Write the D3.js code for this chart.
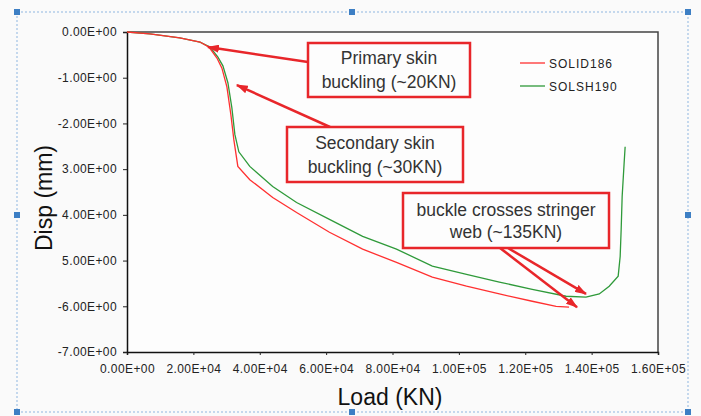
<!DOCTYPE html>
<html>
<head>
<meta charset="utf-8">
<script src="https://cdn.jsdelivr.net/npm/d3@7"></script>
<style>
  body { margin: 0; background: #fafafa; }
  svg { display: block; font-family: "Liberation Sans", Arial, sans-serif; }
</style>
</head>
<body>
<svg id="svgHolder"></svg>
<script>
// load (KN) / displacement (mm)
let solid186Load = [0, 6900, 15900, 22000, 24700, 27100, 28600, 30100, 31300, 32200, 33400, 37000, 43900, 51100, 61000, 71000, 81200, 92000, 102300, 112200, 122100, 129300, 133200];
let solid186Disp = [0, -0.04, -0.13, -0.22, -0.33, -0.57, -0.79, -1.2, -1.81, -2.36, -2.94, -3.23, -3.62, -3.95, -4.38, -4.75, -5.04, -5.36, -5.56, -5.73, -5.89, -6.0, -6.02];

let solsh190Load = [0, 6900, 15900, 22000, 25000, 27400, 28900, 30400, 31600, 32500, 33700, 37000, 43900, 51100, 61000, 71000, 81200, 92000, 102300, 112200, 122100, 132300, 138300, 142300, 145300, 148000, 148600, 148900, 149200, 149800, 150100];
let solsh190Disp = [0, -0.04, -0.13, -0.22, -0.33, -0.55, -0.74, -1.11, -1.66, -2.24, -2.62, -2.94, -3.38, -3.73, -4.1, -4.47, -4.75, -5.12, -5.3, -5.47, -5.63, -5.78, -5.8, -5.73, -5.56, -5.34, -4.91, -4.32, -3.6, -2.86, -2.51];

let seriesNames = ['SOLID186', 'SOLSH190'];
let seriesColors = ['#ff3030', '#2f9a3a'];

let xTicks = [0, 20000, 40000, 60000, 80000, 100000, 120000, 140000, 160000];
let xTickLabels = ['0.00E+00', '2.00E+04', '4.00E+04', '6.00E+04', '8.00E+04', '1.00E+05', '1.20E+05', '1.40E+05', '1.60E+05'];
let yTicks = [0, -1, -2, -3, -4, -5, -6, -7];
let yTickLabels = ['0.00E+00', '-1.00E+00', '-2.00E+00', '3.00E+00', '4.00E+00', '5.00E+00', '-6.00E+00', '-7.00E+00'];

let noteLines = [
    ['Primary skin', 'buckling (~20KN)'],
    ['Secondary skin', 'buckling (~30KN)'],
    ['buckle crosses stringer', 'web (~135KN)']
];
// arrow tips in data units [load, disp]
let noteTips = [
    [[24400, -0.33]],
    [[33100, -1.16]],
    [[135600, -6.02], [138300, -5.73]]
];

let width = 701;
let height = 416;
let plotLeft = 127, plotRight = 658, plotTop = 32, plotBottom = 352;

let xScale;
let yScale;
let svg = d3.select('#svgHolder');

function drawSvgHolder() {
    svg.attr('width', width).attr('height', height);

    // selection frame around the chart object
    svg.append('rect')
        .attr('x', 17).attr('y', 12)
        .attr('width', 671).attr('height', 400)
        .attr('fill', '#fafafa')
        .attr('stroke', '#8fb6e0')
        .attr('stroke-dasharray', '2,2');

    let handles = [[17, 12], [352, 12], [688, 12], [17, 215], [688, 215], [17, 412], [352, 412], [688, 412]];
    svg.selectAll('.handle')
        .data(handles)
        .enter()
        .append('rect')
        .attr('class', 'handle')
        .attr('x', (d) => d[0] - 3)
        .attr('y', (d) => d[1] - 3)
        .attr('width', 6)
        .attr('height', 6)
        .attr('fill', '#3d7fc4');

    svg.append('rect')
        .attr('x', plotLeft).attr('y', plotTop)
        .attr('width', plotRight - plotLeft).attr('height', plotBottom - plotTop)
        .attr('fill', '#fdfdfd');
}

function generateScales() {
    xScale = d3.scaleLinear()
        .domain([0, 160000])
        .range([plotLeft, plotRight]);

    yScale = d3.scaleLinear()
        .domain([-7, 0])
        .range([plotBottom, plotTop]);
}

function drawAxis() {
    let xAxis = d3.axisBottom(xScale)
        .tickValues(xTicks)
        .tickSize(3)
        .tickPadding(9)
        .tickFormat((d, i) => xTickLabels[i]);

    let yAxis = d3.axisLeft(yScale)
        .tickValues(yTicks)
        .tickSize(4)
        .tickPadding(6)
        .tickFormat((d, i) => yTickLabels[i]);

    // top & right frame
    svg.append('path')
        .attr('d', 'M' + plotLeft + ',' + plotTop + 'H' + plotRight + 'V' + plotBottom)
        .attr('fill', 'none')
        .attr('stroke', '#444')
        .attr('stroke-width', 1.5);

    let gx = svg.append('g')
        .attr('id', 'x-axis')
        .attr('transform', 'translate(0,' + plotBottom + ')')
        .call(xAxis);

    let gy = svg.append('g')
        .attr('id', 'y-axis')
        .attr('transform', 'translate(' + plotLeft + ',0)')
        .call(yAxis);

    [gx, gy].forEach((g) => {
        g.select('.domain').attr('stroke', '#111').attr('stroke-width', 1.5);
        g.selectAll('.tick line').attr('stroke', '#222');
        g.selectAll('.tick text')
            .attr('fill', '#222')
            .style('font-size', '12px')
            .style('letter-spacing', '0.4px');
    });

    svg.append('text')
        .attr('x', 390)
        .attr('y', 405)
        .attr('text-anchor', 'middle')
        .style('font-size', '23px')
        .attr('fill', '#111')
        .text('Load (KN)');

    svg.append('text')
        .attr('transform', 'translate(52,198) rotate(-90)')
        .attr('text-anchor', 'middle')
        .style('font-size', '23px')
        .attr('fill', '#111')
        .text('Disp (mm)');
}

function drawLines() {
    let line = d3.line()
        .x((d) => xScale(d[0]))
        .y((d) => yScale(d[1]));

    let series = [
        d3.zip(solid186Load, solid186Disp),
        d3.zip(solsh190Load, solsh190Disp)
    ];

    // green first so red sits on top at the start
    svg.append('path')
        .datum(series[1])
        .attr('d', line)
        .attr('fill', 'none')
        .attr('stroke', seriesColors[1])
        .attr('stroke-width', 1.3);

    svg.append('path')
        .datum(series[0])
        .attr('d', line)
        .attr('fill', 'none')
        .attr('stroke', seriesColors[0])
        .attr('stroke-width', 1.3);
}

function drawLegend() {
    let legend = svg.append('g')
        .attr('transform', 'translate(520,63)');

    seriesNames.forEach((name, i) => {
        legend.append('line')
            .attr('x1', 0).attr('x2', 25)
            .attr('y1', i * 23).attr('y2', i * 23)
            .attr('stroke', seriesColors[i])
            .attr('stroke-width', 1.3);
        legend.append('text')
            .attr('x', 29)
            .attr('y', i * 23 + 4.5)
            .style('font-size', '12px')
            .style('letter-spacing', '1px')
            .attr('fill', '#222')
            .text(name);
    });
}

function drawNotes() {
    svg.append('defs')
        .append('marker')
        .attr('id', 'head')
        .attr('viewBox', '0 0 12 8')
        .attr('refX', 11)
        .attr('refY', 4)
        .attr('markerWidth', 12)
        .attr('markerHeight', 8)
        .attr('markerUnits', 'userSpaceOnUse')
        .attr('orient', 'auto')
        .append('path')
        .attr('d', 'M0,0L12,4L0,8Z')
        .attr('fill', '#e8262a');

    // box layout: x, y, w, h, first line y, line gap, arrow tails
    let boxes = [
        {x: 308, y: 43, w: 162, h: 54, ty: 64, gap: 24, tails: [[308, 62]]},
        {x: 287, y: 127, w: 176, h: 55, ty: 149, gap: 24, tails: [[330, 127]]},
        {x: 403, y: 193, w: 206, h: 55, ty: 216, gap: 22, tails: [[500, 248], [508, 248]]}
    ];

    boxes.forEach((b, i) => {
        noteTips[i].forEach((tip, j) => {
            svg.append('line')
                .attr('x1', b.tails[j][0])
                .attr('y1', b.tails[j][1])
                .attr('x2', xScale(tip[0]))
                .attr('y2', yScale(tip[1]))
                .attr('stroke', '#e8262a')
                .attr('stroke-width', 2.5)
                .attr('marker-end', 'url(#head)');
        });

        svg.append('rect')
            .attr('x', b.x).attr('y', b.y)
            .attr('width', b.w).attr('height', b.h)
            .attr('fill', '#fdfdfd')
            .attr('stroke', '#e8262a')
            .attr('stroke-width', 2.5);

        noteLines[i].forEach((t, k) => {
            svg.append('text')
                .attr('x', b.x + b.w / 2)
                .attr('y', b.ty + k * b.gap)
                .attr('text-anchor', 'middle')
                .style('font-size', '17.5px')
                .attr('fill', '#333')
                .text(t);
        });
    });
}

drawSvgHolder();
generateScales();
drawAxis();
drawLines();
drawLegend();
drawNotes();
</script>
</body>
</html>
